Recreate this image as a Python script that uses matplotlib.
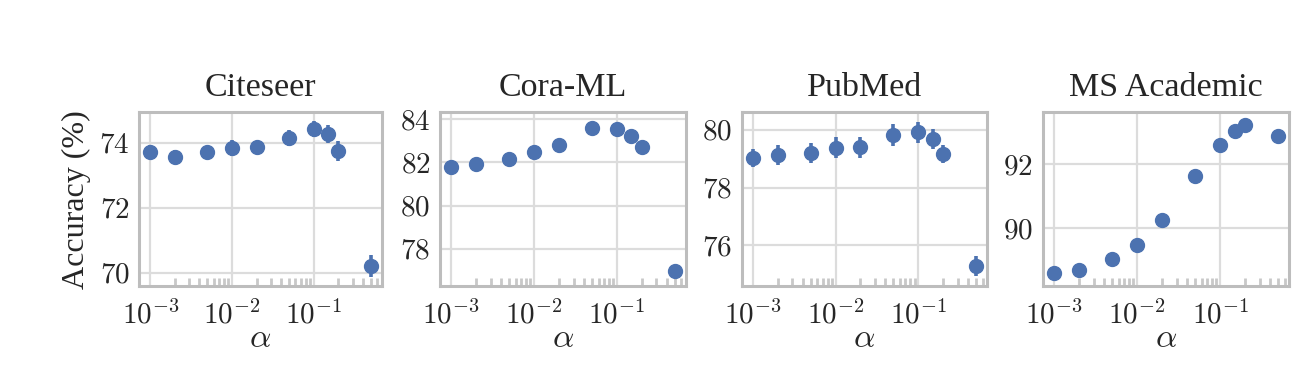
import matplotlib
matplotlib.use("Agg")
import matplotlib.pyplot as plt
import matplotlib.ticker as mticker
import numpy as np

# ---- data ----
alphas = [0.001, 0.002, 0.005, 0.01, 0.02, 0.05, 0.1, 0.15, 0.2, 0.5]
titles = ["Citeseer", "Cora-ML", "PubMed", "MS Academic"]

citeseer_acc = [73.72, 73.57, 73.70, 73.83, 73.85, 74.15, 74.41, 74.26, 73.74, 70.21]
citeseer_err = [0.20, 0.20, 0.15, 0.25, 0.20, 0.25, 0.25, 0.27, 0.30, 0.34]
cora_acc = [81.80, 81.92, 82.15, 82.46, 82.82, 83.57, 83.54, 83.22, 82.72, 77.00]
cora_err = [0.10, 0.15, 0.10, 0.12, 0.10, 0.08, 0.08, 0.08, 0.08, 0.08]
pubmed_acc = [79.02, 79.14, 79.21, 79.38, 79.40, 79.82, 79.92, 79.69, 79.16, 75.28]
pubmed_err = [0.31, 0.35, 0.35, 0.36, 0.36, 0.37, 0.37, 0.35, 0.31, 0.36]
ms_acc = [88.60, 88.70, 89.04, 89.50, 90.25, 91.64, 92.59, 93.03, 93.21, 92.88]
ms_err = [0.05, 0.05, 0.05, 0.05, 0.05, 0.05, 0.05, 0.05, 0.05, 0.05]

yticks = [[70, 72, 74], [78, 80, 82, 84], [76, 78, 80], [90, 92]]
ylims = [(69.59, 74.93), (76.29, 84.31), (74.59, 80.61), (88.21, 93.61)]

accs = [citeseer_acc, cora_acc, pubmed_acc, ms_acc]
errs = [citeseer_err, cora_err, pubmed_err, ms_err]

plt.rcParams["font.family"] = ["Liberation Serif", "DejaVu Serif"]
plt.rcParams["mathtext.fontset"] = "cm"

W, H = 1316, 368
fig = plt.figure(figsize=(W / 100, H / 100), dpi=100)

boxes = [(139.3, 381.7), (440.0, 686.0), (741.7, 987.3), (1042.7, 1289.3)]
top, bottom = 112.3, 286.0

minor_locs = [s * 10.0 ** e for e in (-3, -2, -1) for s in range(2, 10)]

color = "#4C72B0"
for i, (x0, x1) in enumerate(boxes):
    ax = fig.add_axes([x0 / W, (H - bottom) / H, (x1 - x0) / W, (bottom - top) / H])
    ax.set_xscale("log")
    ax.errorbar(alphas, accs[i], yerr=errs[i], fmt="o", color=color,
                markersize=10, elinewidth=2.6, capsize=0, zorder=3)
    ax.set_ylim(*ylims[i])
    ax.set_yticks(yticks[i])
    ax.yaxis.set_major_formatter(mticker.FuncFormatter(lambda v, p: r"$%d$" % v))
    ax.xaxis.set_major_locator(mticker.FixedLocator([1e-3, 1e-2, 1e-1]))
    ax.xaxis.set_major_formatter(mticker.FuncFormatter(
        lambda v, p: r"$10^{%d}$" % int(round(np.log10(v)))))
    ax.xaxis.set_minor_locator(mticker.FixedLocator(minor_locs))
    ax.xaxis.set_minor_formatter(mticker.NullFormatter())
    ax.grid(True, which="major", color="#dcdcdc", linewidth=1.6, zorder=0)
    ax.set_axisbelow(True)
    for s in ax.spines.values():
        s.set_color("#bdbdbd")
        s.set_linewidth(2.2)
    ax.tick_params(which="major", length=0, labelsize=21, colors="#262626")
    ax.tick_params(axis="x", which="major", pad=10)
    ax.tick_params(axis="y", which="major", pad=7)
    ax.tick_params(axis="x", which="minor", direction="in", length=6, width=2,
                   color="#c8c8c8", bottom=True, top=False)
    ax.set_title(titles[i], fontsize=24.5, pad=12, color="#262626")
    ax.set_xlabel(r"$\alpha$", fontsize=24, labelpad=-4, color="#262626")
    if i == 0:
        ax.set_ylabel("Accuracy (%)", fontsize=23, labelpad=6, color="#262626")

fig.savefig("out.png", dpi=100)
